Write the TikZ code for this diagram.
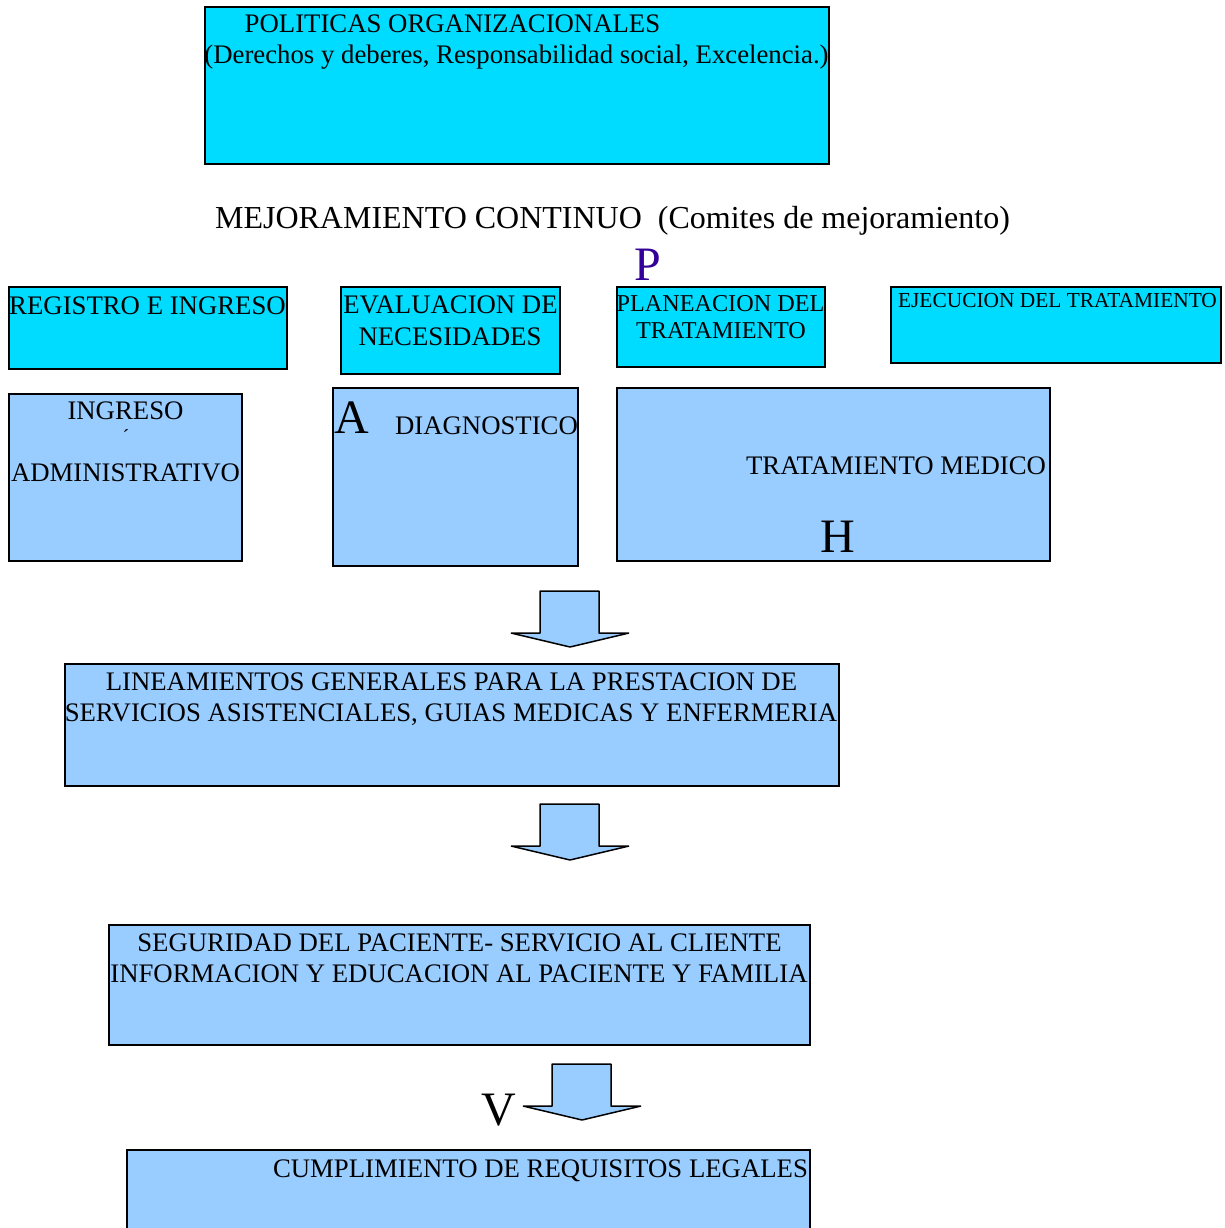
\documentclass[tikz,border=0pt]{standalone}
\usepackage{fontspec}
\setmainfont{Liberation Serif}
\usetikzlibrary{fit}
\definecolor{boxcyan}{HTML}{00DCFF}
\definecolor{boxblue}{HTML}{99CCFF}
\definecolor{pviolet}{HTML}{330099}
\begin{document}
\begin{tikzpicture}[x=0.5pt,y=-0.5pt,
  cbox/.style={draw=black, line width=1pt, fill=boxcyan, inner sep=0pt, outer sep=0pt},
  bbox/.style={draw=black, line width=1pt, fill=boxblue, inner sep=0pt, outer sep=0pt},
  txt/.style={inner sep=0pt, anchor=base, font=\fontsize{13.38pt}{15pt}\selectfont},
  smalltxt/.style={inner sep=0pt, anchor=base, font=\fontsize{10.7pt}{12pt}\selectfont},
  midtxt/.style={inner sep=0pt, anchor=base, font=\fontsize{12.1pt}{14pt}\selectfont},
  titletxt/.style={inner sep=0pt, anchor=base, font=\fontsize{16pt}{18pt}\selectfont},
  bigletter/.style={inner sep=0pt, anchor=base, font=\fontsize{24pt}{28pt}\selectfont},
  blockarrow/.style={draw=black, line width=0.75pt, fill=boxblue, line join=bevel}]
\useasboundingbox (0,0) rectangle (1225,1228);
\clip (0,0) rectangle (1225,1228);
\fill[white] (0,0) rectangle (1225,1228);

% top box
\node[cbox, fit={(205,7) (829,164)}] (pol) {};
\node[txt] (pol1) at (452.5,32) {POLITICAS ORGANIZACIONALES};
\node[txt] (pol2) at (516.5,63) {(Derechos y deberes, Responsabilidad social, Excelencia.)};

\node[titletxt] (mej) at (612.5,228) {MEJORAMIENTO CONTINUO\ \ (Comites de mejoramiento)};
\node[bigletter, text=pviolet] (P) at (648,280) {P};

% cyan row
\node[cbox, fit={(9,287) (287,369)}] (reg) {};
\node[txt] (regt) at (147.5,314) {REGISTRO E INGRESO};
\node[cbox, fit={(341,287) (560,374)}] (eva) {};
\node[txt] (eva1) at (450.5,313) {EVALUACION DE};
\node[txt] (eva2) at (450,345) {NECESIDADES};
\node[cbox, fit={(617,287) (825,367)}] (pla) {};
\node[midtxt] (pla1) at (720.5,311) {PLANEACION DEL};
\node[midtxt] (pla2) at (721,338) {TRATAMIENTO};
\node[cbox, fit={(891,287) (1221,363)}] (eje) {};
\node[smalltxt] (ejet) at (1057.5,307) {EJECUCION DEL TRATAMIENTO};

% blue row
\node[bbox, fit={(9,394) (242,561)}] (ing) {};
\node[txt] (ing1) at (125.5,419) {INGRESO};
\node[inner sep=0pt, font=\fontsize{10pt}{12pt}\selectfont] (acc) at (126,437) {´};
\node[txt] (ing2) at (125.5,481) {ADMINISTRATIVO};
\node[bbox, fit={(333,388) (578,566)}] (dia) {};
\node[bigletter] (A) at (351.5,433) {A};
\node[txt] (diat) at (486.5,434) {DIAGNOSTICO};
\node[bbox, fit={(617,388) (1050,561)}] (tra) {};
\node[txt] (trat) at (896,474) {TRATAMIENTO MEDICO};
\node[bigletter] (H) at (838,552) {H};

% arrow 1
\draw[blockarrow] (540,591) coordinate (a1) -- (599,591) -- (599,633) -- (629,633) -- (570,647) coordinate (a1tip) -- (511,633) -- (540,633) -- cycle;

\node[bbox, fit={(65,664) (839,786)}] (lin) {};
\node[txt] (lin1) at (451.5,690) {LINEAMIENTOS GENERALES PARA LA PRESTACION DE};
\node[txt] (lin2) at (451,721) {SERVICIOS ASISTENCIALES, GUIAS MEDICAS Y ENFERMERIA};

% arrow 2
\draw[blockarrow] (540,804) coordinate (a2) -- (599,804) -- (599,846) -- (629,846) -- (570,860) coordinate (a2tip) -- (511,846) -- (540,846) -- cycle;

\node[bbox, fit={(109,925) (810,1045)}] (seg) {};
\node[txt] (seg1) at (459.5,951) {SEGURIDAD DEL PACIENTE- SERVICIO AL CLIENTE};
\node[txt] (seg2) at (459,982) {INFORMACION Y EDUCACION AL PACIENTE Y FAMILIA};

% arrow 3
\draw[blockarrow] (552,1064) coordinate (a3) -- (611,1064) -- (611,1106) -- (641,1106) -- (582,1120) coordinate (a3tip) -- (523,1106) -- (552,1106) -- cycle;
\node[bigletter] (V) at (499,1125) {V};

\node[bbox, fit={(127,1150) (810,1260)}] (cum) {};
\node[txt] (cumt) at (540.5,1177) {CUMPLIMIENTO DE REQUISITOS LEGALES};
\end{tikzpicture}
\end{document}
